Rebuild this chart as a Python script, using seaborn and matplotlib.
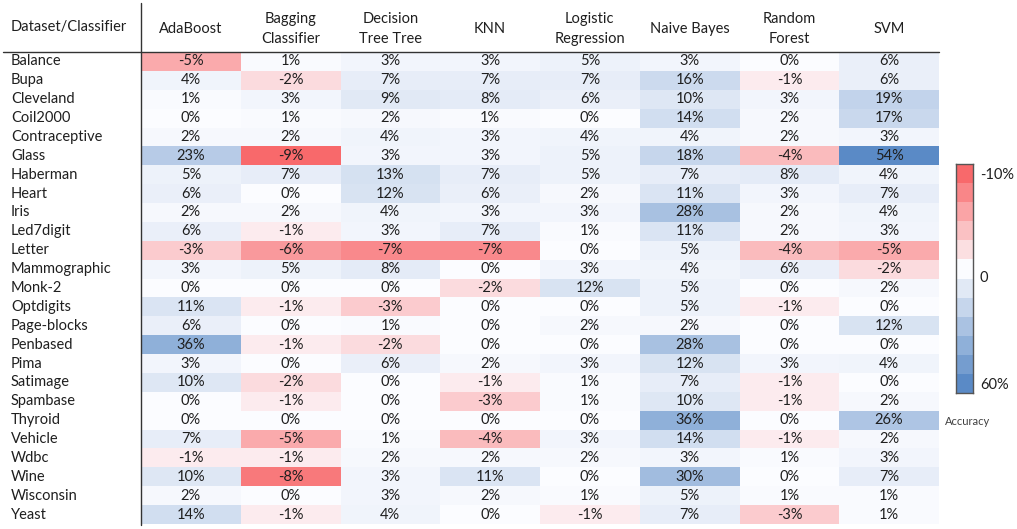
import numpy as np
import pandas as pd
import seaborn as sns
import matplotlib.pyplot as plt
from matplotlib.colors import LinearSegmentedColormap, TwoSlopeNorm
from matplotlib.lines import Line2D

datasets = ["Balance", "Bupa", "Cleveland", "Coil2000", "Contraceptive", "Glass",
            "Haberman", "Heart", "Iris", "Led7digit", "Letter", "Mammographic",
            "Monk-2", "Optdigits", "Page-blocks", "Penbased", "Pima", "Satimage",
            "Spambase", "Thyroid", "Vehicle", "Wdbc", "Wine", "Wisconsin", "Yeast"]

classifiers = ["AdaBoost", "Bagging\nClassifier", "Decision\nTree Tree", "KNN",
               "Logistic\nRegression", "Naive Bayes", "Random\nForest", "SVM"]

adaboost = [-5, 4, 1, 0, 2, 23, 5, 6, 2, 6, -3, 3, 0, 11, 6, 36, 3, 10, 0, 0, 7, -1, 10, 2, 14]
bagging = [1, -2, 3, 1, 2, -9, 7, 0, 2, -1, -6, 5, 0, -1, 0, -1, 0, -2, -1, 0, -5, -1, -8, 0, -1]
decision_tree = [3, 7, 9, 2, 4, 3, 13, 12, 4, 3, -7, 8, 0, -3, 1, -2, 6, 0, 0, 0, 1, 2, 3, 3, 4]
knn = [3, 7, 8, 1, 3, 3, 7, 6, 3, 7, -7, 0, -2, 0, 0, 0, 2, -1, -3, 0, -4, 2, 11, 2, 0]
logistic = [5, 7, 6, 0, 4, 5, 5, 2, 3, 1, 0, 3, 12, 0, 2, 0, 3, 1, 1, 0, 3, 2, 0, 1, -1]
naive_bayes = [3, 16, 10, 14, 4, 18, 7, 11, 28, 11, 5, 4, 5, 5, 2, 28, 12, 7, 10, 36, 14, 3, 30, 5, 7]
random_forest = [0, -1, 3, 2, 2, -4, 8, 3, 2, 2, -4, 6, 0, -1, 0, 0, 3, -1, -1, 0, -1, 1, 0, 1, -3]
svm = [6, 6, 19, 17, 3, 54, 4, 7, 4, 3, -5, -2, 2, 0, 12, 0, 4, 0, 2, 26, 2, 3, 7, 1, 1]

legend_levels = [-10, -8, -6, -4, -2, 0, 10, 20, 30, 40, 50, 60]
legend_tick_labels = ["-10%", "0", "60%"]

sns.set_theme(style="white")
plt.rcParams['font.family'] = ['Lato', 'DejaVu Sans']

FS = 10.5
TXT = "#1f1f1f"

df = pd.DataFrame(
    np.array([adaboost, bagging, decision_tree, knn, logistic, naive_bayes,
              random_forest, svm]).T,
    index=datasets, columns=classifiers)
annot = df.map(lambda v: f"{v}%").values

cmap = LinearSegmentedColormap.from_list("excel3", ["#F8696B", "#FCFCFF", "#5A8AC6"])
norm = TwoSlopeNorm(vmin=df.values.min(), vcenter=0, vmax=df.values.max())

W, H = 1017, 529
fig = plt.figure(figsize=(W / 100, H / 100), dpi=100)
fig.patch.set_facecolor("white")

ax = fig.add_axes([141 / W, 1 - 524 / H, (939 - 141) / W, (524 - 52) / H])
sns.heatmap(df, ax=ax, cmap=cmap, norm=norm, annot=annot, fmt="", cbar=False,
            linewidths=0, annot_kws=dict(fontsize=FS, color=TXT))

ax.xaxis.tick_top()
ax.set_xticklabels(classifiers, rotation=0, fontsize=FS, va="center",
                   ha="center", color=TXT, linespacing=1.5)
ax.tick_params(axis="x", length=0, pad=16.5)
ax.set_yticklabels(datasets, rotation=0, ha="left", va="center",
                   fontsize=FS, color=TXT)
ax.tick_params(axis="y", length=0, pad=93.6)
ax.set_xlabel("")
ax.set_ylabel("")

fig.text(11 / W, 1 - 27 / H, "Dataset/Classifier", ha="left", va="center",
         fontsize=FS, color=TXT)

fig.add_artist(Line2D([3 / W, 939 / W], [1 - 52 / H, 1 - 52 / H],
                      color="#333333", lw=1))
fig.add_artist(Line2D([141 / W, 141 / W], [1 - 3 / H, 1 - 525 / H],
                      color="#333333", lw=1))

# colour legend
leg_df = pd.DataFrame({"Accuracy": legend_levels})
cax = fig.add_axes([956 / W, 1 - 393 / H, 17 / W, (393 - 164) / H])
sns.heatmap(leg_df, ax=cax, cmap=cmap,
            norm=TwoSlopeNorm(vmin=min(legend_levels), vcenter=0, vmax=max(legend_levels)),
            cbar=False, linewidths=0, xticklabels=False)
cax.yaxis.tick_right()
cax.set_yticks([0.5, 5.9, 11.5])
cax.set_yticklabels(legend_tick_labels, rotation=0, fontsize=FS, color=TXT)
cax.tick_params(axis="y", length=0, pad=5)
cax.set_ylabel("")
cax.set_xlabel("Accuracy", fontsize=8, color="#404040", labelpad=15)
cax.xaxis.set_label_coords(0.7, -0.125)
cax.xaxis.label.set_va("center")
for s in cax.spines.values():
    s.set_visible(True)
    s.set_color("#555555")
    s.set_linewidth(1)

fig.savefig("out.png", dpi=100, facecolor="white")
